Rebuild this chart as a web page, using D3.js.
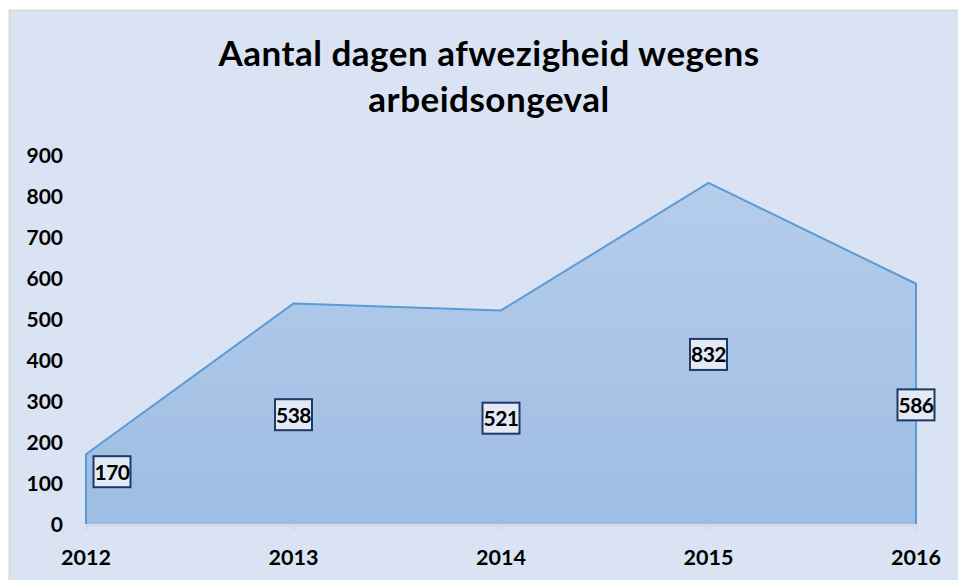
<!DOCTYPE html>
<html><head><meta charset="utf-8">
<script src="https://cdn.jsdelivr.net/npm/d3@7"></script>
<style>body{margin:0;background:#fff;}svg{display:block;font-family:Lato,"Open Sans",sans-serif;}</style>
</head><body>
<svg id="c" width="958" height="580"></svg>
<script>
const categories = ["2012","2013","2014","2015","2016"];
const values = [170, 538, 521, 832, 586];
const yTicks = [0,100,200,300,400,500,600,700,800,900];
const titleLines = ["Aantal dagen afwezigheid wegens","arbeidsongeval"];

const svg = d3.select("#c");
const W = 958, H = 580;
svg.append("rect").attr("x",9.5).attr("y",10.5).attr("width",W).attr("height",H)
  .attr("fill","#dae3f3").attr("stroke","#d9d9d9").attr("stroke-width",2);

const x = d3.scalePoint().domain(categories).range([86, 916]);
const y = d3.scaleLinear().domain([0, 900]).range([524, 155]);

const defs = svg.append("defs");
const g = defs.append("linearGradient").attr("id","fillg").attr("x1",0).attr("y1",0).attr("x2",0).attr("y2",1);
g.append("stop").attr("offset","0%").attr("stop-color","#b5cdeb");
g.append("stop").attr("offset","100%").attr("stop-color","#9ebde3");

const data = categories.map((c,i)=>({c, v: values[i]}));
const area = d3.area().x(d=>x(d.c)).y0(y(0)).y1(d=>y(d.v));
const line = d3.line().x(d=>x(d.c)).y(d=>y(d.v));

svg.append("path").datum(data).attr("d", area).attr("fill","url(#fillg)");

// axis baseline with ticks
const xAxis = svg.append("g").attr("transform",`translate(0,${y(0)+1})`)
  .call(d3.axisBottom(x).tickSize(5).tickSizeOuter(0).tickFormat(""));
xAxis.select(".domain").attr("stroke","#d0d7e3").attr("stroke-width",2);
xAxis.selectAll(".tick line").attr("stroke","#d0d7e3").attr("stroke-width",2);

// outline (top & sides)
const outline = [{c:categories[0], v:0}, ...data, {c:categories[categories.length-1], v:0}];
svg.append("path").datum(outline).attr("d", line).attr("fill","none")
  .attr("stroke","#5b9bd5").attr("stroke-width",2).attr("stroke-linejoin","miter");

// x labels
svg.append("g").selectAll("text").data(categories).join("text")
  .attr("x", d=>x(d)).attr("y", 565).attr("text-anchor","middle")
  .attr("font-size",21.5).attr("font-weight",700).attr("fill","#000").text(d=>d);

// y labels
svg.append("g").selectAll("text").data(yTicks).join("text")
  .attr("x", 63).attr("y", d=>y(d)+7.5).attr("text-anchor","end")
  .attr("font-size",21).attr("font-weight",700).attr("fill","#000").text(d=>d);

// title
svg.append("g").selectAll("text").data(titleLines).join("text")
  .attr("x", 489).attr("y",(d,i)=>66+i*46).attr("text-anchor","middle")
  .attr("font-size",35).attr("font-weight",700).attr("letter-spacing",0.5).attr("fill","#000").text(d=>d);

// data labels
const lab = svg.append("g").selectAll("g").data(data).join("g")
  .attr("transform",(d,i)=>{
    let cx = x(d.c);
    if (i===0) cx += 26;
    const lv = Math.max(d.v/2, 130);
    return `translate(${cx},${y(lv)+1})`;
  });
lab.append("rect").attr("x",-18.5).attr("y",-15.5).attr("width",37).attr("height",31)
  .attr("fill","#e3e9f5").attr("stroke","#1f3864").attr("stroke-width",2);
lab.append("text").attr("text-anchor","middle").attr("y",8)
  .attr("font-size",21).attr("font-weight",700).attr("letter-spacing",-0.5).attr("fill","#000").text(d=>d.v);
</script>
</body></html>
